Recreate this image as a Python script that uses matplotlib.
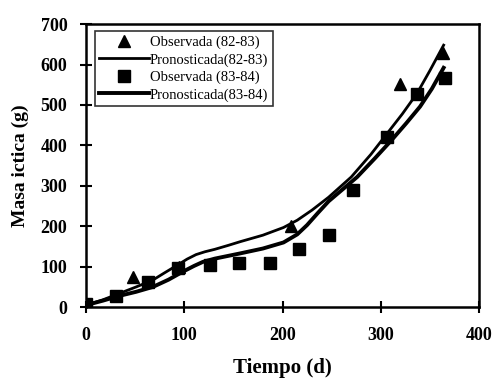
import matplotlib
matplotlib.use("Agg")
import matplotlib.pyplot as plt

plt.rcParams['font.family'] = ['Liberation Serif', 'DejaVu Serif']

# observed data
obs_t_8283 = [0, 48, 95, 209, 320, 363]
obs_m_8283 = [8, 74, 100, 200, 552, 628]

obs_t_8384 = [0, 31, 63, 94, 126, 156, 187, 217, 247, 272, 306, 337, 365]
obs_m_8384 = [8, 27, 63, 98, 104, 108, 110, 143, 178, 291, 420, 527, 568]

# predicted curves
pred_t_8283 = [0, 17, 34, 51, 68, 80, 93, 103, 112, 121, 131, 145, 157, 180, 201, 215, 230, 247, 270, 290, 306, 322, 337, 350, 364]
pred_m_8283 = [5, 18, 34, 50, 67, 85, 104, 119, 130, 137, 143, 153, 162, 178, 197, 215, 240, 272, 322, 378, 428, 478, 529, 585, 648]

pred_t_8384 = [0, 17, 34, 51, 68, 84, 98, 110, 119, 131, 145, 157, 180, 201, 215, 225, 236, 247, 262, 276, 294, 311, 326, 340, 352, 364]
pred_m_8384 = [5, 16, 28, 38, 50, 68, 87, 102, 112, 120, 127, 133, 145, 160, 180, 203, 233, 262, 293, 322, 368, 413, 455, 496, 540, 592]

fig = plt.figure(figsize=(5.0, 3.83), dpi=100)
ax = fig.add_axes([0.172, 0.198, 0.786, 0.739])

ax.plot(obs_t_8283, obs_m_8283, '^', color='black', markersize=8,
        label='Observada (82-83)', zorder=4)
ax.plot(pred_t_8283, pred_m_8283, '-', color='black', linewidth=2.0,
        label='Pronosticada(82-83)', zorder=3)
ax.plot(obs_t_8384, obs_m_8384, 's', color='black', markersize=8,
        label='Observada (83-84)', zorder=4)
ax.plot(pred_t_8384, pred_m_8384, '-', color='black', linewidth=2.8,
        label='Pronosticada(83-84)', zorder=3)

ax.set_xlim(0, 400)
ax.set_ylim(0, 700)
ax.set_xticks([0, 100, 200, 300, 400])
ax.set_yticks([0, 100, 200, 300, 400, 500, 600, 700])

for s in ax.spines.values():
    s.set_linewidth(1.8)

ax.tick_params(direction='inout', length=9, width=1.5, labelsize=13)
ax.tick_params(axis='x', pad=10)
ax.tick_params(axis='y', pad=9)
for lbl in ax.get_xticklabels() + ax.get_yticklabels():
    lbl.set_fontweight('bold')

ax.set_xlabel('Tiempo (d)', fontsize=15, fontweight='bold', labelpad=10)
ax.set_ylabel('Masa ictica (g)', fontsize=14, fontweight='bold', labelpad=8)

leg = ax.legend(loc='upper left', bbox_to_anchor=(0.022, 0.975), fontsize=10.5,
                frameon=True, fancybox=False, handlelength=3.4, handletextpad=0.1,
                borderpad=0.3, labelspacing=0.28, borderaxespad=0)
leg.get_frame().set_edgecolor('black')
leg.get_frame().set_linewidth(1.2)

fig.savefig('out.png', dpi=100)
